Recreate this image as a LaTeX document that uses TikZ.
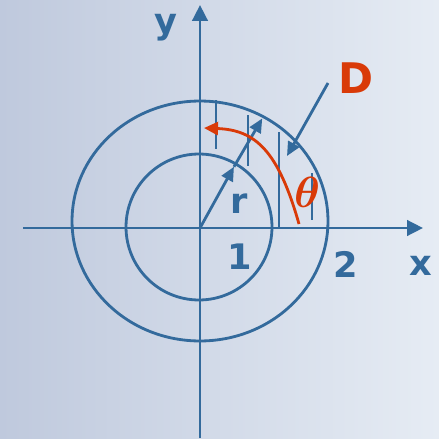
\documentclass[tikz,border=0pt]{standalone}
\usepackage{fontspec}
\usepackage{bm}
\setsansfont{DejaVu Sans}
\usetikzlibrary{arrows.meta,calc}
\definecolor{axblue}{HTML}{336A9C}
\definecolor{hired}{HTML}{D93A08}
\definecolor{bgdark}{HTML}{BFC9DD}
\definecolor{bglight}{HTML}{E6ECF4}
\tikzset{
  axis/.style={axblue, line width=1.6pt, -{Triangle[length=0.32cm, width=0.31cm]}},
  arr/.style={axblue, line width=1.6pt, -{Triangle[length=0.28cm, width=0.25cm]}},
  ring/.style={axblue, line width=1.6pt},
  strip/.style={axblue, line width=1.6pt},
  redarr/.style={hired, line width=1.6pt, -{Triangle[length=0.28cm, width=0.26cm]}},
  lbl/.style={axblue, font=\sffamily\bfseries\fontsize{20}{20}\selectfont, inner sep=0pt},
}
\begin{document}
\begin{tikzpicture}[x=0.02cm, y=-0.02cm]
  % background
  \shade[left color=bgdark, right color=bglight] (0,0) rectangle (439,439);
  \useasboundingbox (0,0) rectangle (439,439);

  \coordinate (O) at (200,228);
  \coordinate (xl) at (23,228);
  \coordinate (xr) at (423,228);
  \coordinate (yb) at (200,438);
  \coordinate (yt) at (200,5);

  % circles
  \draw[ring] (199,227) circle[radius=1.46cm];
  \draw[ring] (200,221) ellipse[x radius=2.56cm, y radius=2.4cm];

  % axes
  \draw[axis] (xl) -- (xr);
  \draw[axis] (yb) -- (yt);

  % vertical strips
  \draw[strip] (216,100) -- (216,149);
  \draw[strip] (248,115) -- (248,166);
  \draw[strip] (279,132) -- (279,228);
  \draw[strip] (312,173) -- (312,220);

  % radius arrow
  \coordinate (rmid) at ($(O)+(61:1.4cm)$);
  \coordinate (rtip) at ($(O)+(60.4:2.52cm)$);
  \draw[arr] (O) -- (rmid);
  \draw[arr] (rmid) -- (rtip);

  % theta arrow
  \coordinate (ts) at (299,224);
  \coordinate (te) at (204,128);
  \draw[redarr] (ts) .. controls (278,150) and (255,130) .. (te);

  % D pointer
  \coordinate (ds) at (328,83);
  \coordinate (de) at (287,156);
  \draw[arr] (ds) -- (de);

  % labels
  \node[lbl, text=hired, font=\sffamily\bfseries\fontsize{24}{24}\selectfont] (D) at (356,78) {D};
  \node[hired, font=\fontsize{27}{27}\selectfont, inner sep=0pt] (th) at (307,192) {$\bm{\theta}$};
  \node[lbl] (r) at (239,204) {r};
  \node[lbl] (one) at (240,257) {1};
  \node[lbl] (two) at (346,264) {2};
  \node[lbl] (x) at (421,266) {x};
  \node[lbl] (y) at (166,28) {y};
\end{tikzpicture}
\end{document}
